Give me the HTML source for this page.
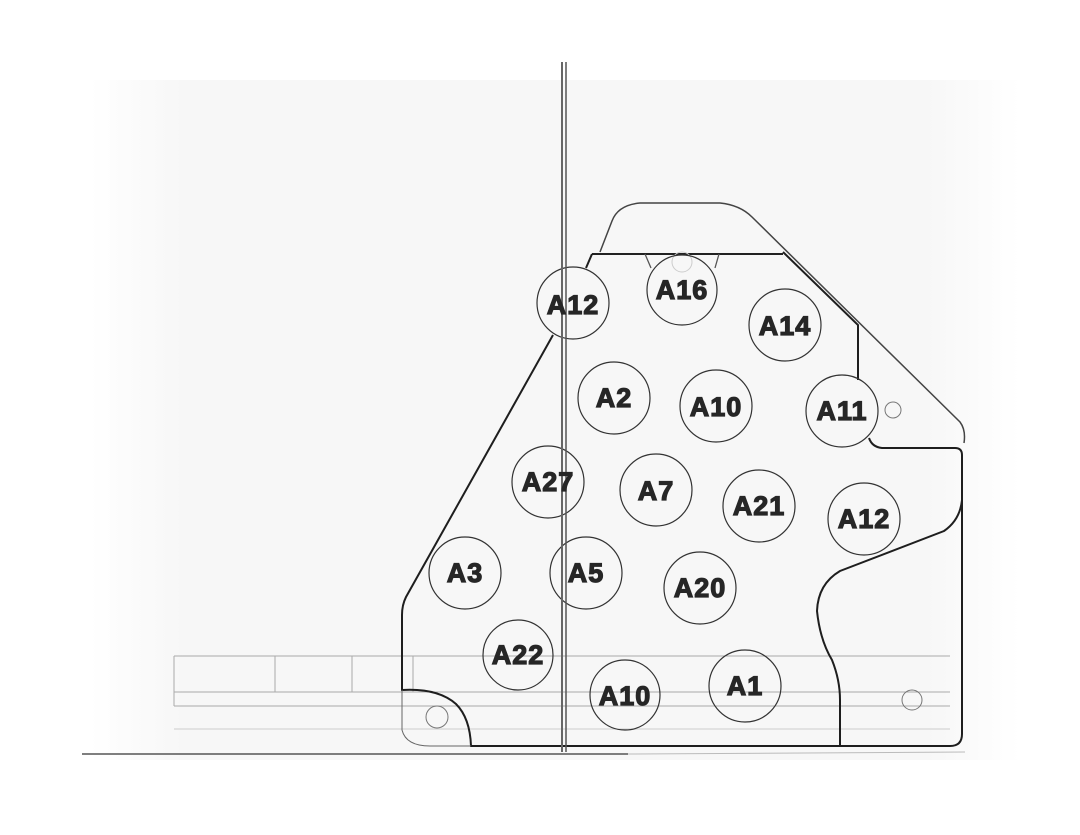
<!DOCTYPE html>
<html><head><meta charset="utf-8"><style>
html,body{margin:0;padding:0;background:#fff}
svg{display:block}
text{font-family:"Liberation Sans",sans-serif;font-weight:bold;font-size:27px;fill:#262626;stroke:#262626;stroke-width:1.2;letter-spacing:1px;text-anchor:middle;dominant-baseline:central}
</style></head><body>
<svg width="1080" height="835" viewBox="0 0 1080 835" xmlns="http://www.w3.org/2000/svg">
<defs>
<linearGradient id="bg" x1="0" y1="0" x2="1" y2="0">
<stop offset="0" stop-color="#fff"/><stop offset="0.1" stop-color="#f7f7f7"/><stop offset="0.9" stop-color="#f7f7f7"/><stop offset="1" stop-color="#fff"/>
</linearGradient>
</defs>
<rect width="1080" height="835" fill="#fff"/>
<rect x="90" y="80" width="930" height="680" fill="url(#bg)"/>
<g stroke="#aaa" stroke-width="1" fill="none">
<line x1="174" y1="656" x2="950" y2="656"/>
<line x1="174" y1="692" x2="950" y2="692"/>
<line x1="174" y1="706" x2="950" y2="706"/>
<line x1="174" y1="729" x2="950" y2="729" stroke="#ccc"/>
<line x1="174" y1="656" x2="174" y2="706"/>
<line x1="275" y1="656" x2="275" y2="692"/>
<line x1="352" y1="656" x2="352" y2="692"/>
<line x1="413" y1="656" x2="413" y2="692"/>
</g>
<line x1="82" y1="754" x2="628" y2="754" stroke="#555" stroke-width="1.5"/>
<line x1="628" y1="754" x2="965" y2="752" stroke="#bbb" stroke-width="1"/>
<path d="M600,252 L612,221 Q618,205 640,203 L720,203 Q740,205 752,217 L960,422 Q966,430 964,443" fill="none" stroke="#444" stroke-width="1.5"/>
<line x1="592" y1="254" x2="783" y2="254" stroke="#222" stroke-width="2"/>
<path d="M645,254 L651,268 M719,254 L715,268" stroke="#555" stroke-width="1.3" fill="none"/>
<path d="M592,254 L586,268 M553,335 L406,597 Q402,605 402,615 L402,690 Q438,688 456,704 Q470,718 471,746 L950,746 Q962,746 962,734 L962,455 Q962,448 955,448 L882,448 Q872,447 869,438" fill="none" stroke="#1e1e1e" stroke-width="2"/>
<path d="M783,252 L858,325 L858,380" fill="none" stroke="#1e1e1e" stroke-width="2"/>
<path d="M962,500 Q960,520 944,531 L840,571 Q818,584 817,611 Q820,640 832,660 Q840,680 840,700 L840,746" fill="none" stroke="#1e1e1e" stroke-width="2"/>
<path d="M402,690 L402,730 Q406,746 430,746 L471,746" fill="none" stroke="#666" stroke-width="1"/>
<g fill="none" stroke="#777" stroke-width="1">
<circle cx="893" cy="410" r="8"/>
<circle cx="912" cy="700" r="10"/>
<circle cx="437" cy="717" r="11"/>
<circle cx="682" cy="262" r="10" stroke="#ccc"/>
</g>
<g fill="none" stroke="#333" stroke-width="1.2">
<circle cx="573" cy="303" r="36"/>
<circle cx="682" cy="290" r="35"/>
<circle cx="785" cy="325" r="36"/>
<circle cx="614" cy="398" r="36"/>
<circle cx="716" cy="406" r="36"/>
<circle cx="842" cy="411" r="36"/>
<circle cx="548" cy="482" r="36"/>
<circle cx="656" cy="490" r="36"/>
<circle cx="759" cy="506" r="36"/>
<circle cx="864" cy="519" r="36"/>
<circle cx="465" cy="573" r="36"/>
<circle cx="586" cy="573" r="36"/>
<circle cx="700" cy="588" r="36"/>
<circle cx="518" cy="655" r="35"/>
<circle cx="625" cy="695" r="35"/>
<circle cx="745" cy="686" r="36"/>
</g>
<line x1="562" y1="62" x2="562" y2="752" stroke="#666" stroke-width="2"/>
<line x1="566" y1="62" x2="566" y2="752" stroke="#555" stroke-width="1.5"/>
<text x="573" y="305">A12</text>
<text x="682" y="290">A16</text>
<text x="785" y="326">A14</text>
<text x="614" y="398">A2</text>
<text x="716" y="407">A10</text>
<text x="842" y="411">A11</text>
<text x="548" y="482">A27</text>
<text x="656" y="491">A7</text>
<text x="759" y="506">A21</text>
<text x="864" y="519">A12</text>
<text x="465" y="573">A3</text>
<text x="586" y="573">A5</text>
<text x="700" y="588">A20</text>
<text x="518" y="655">A22</text>
<text x="625" y="696">A10</text>
<text x="745" y="686">A1</text>
</svg>
</body></html>
